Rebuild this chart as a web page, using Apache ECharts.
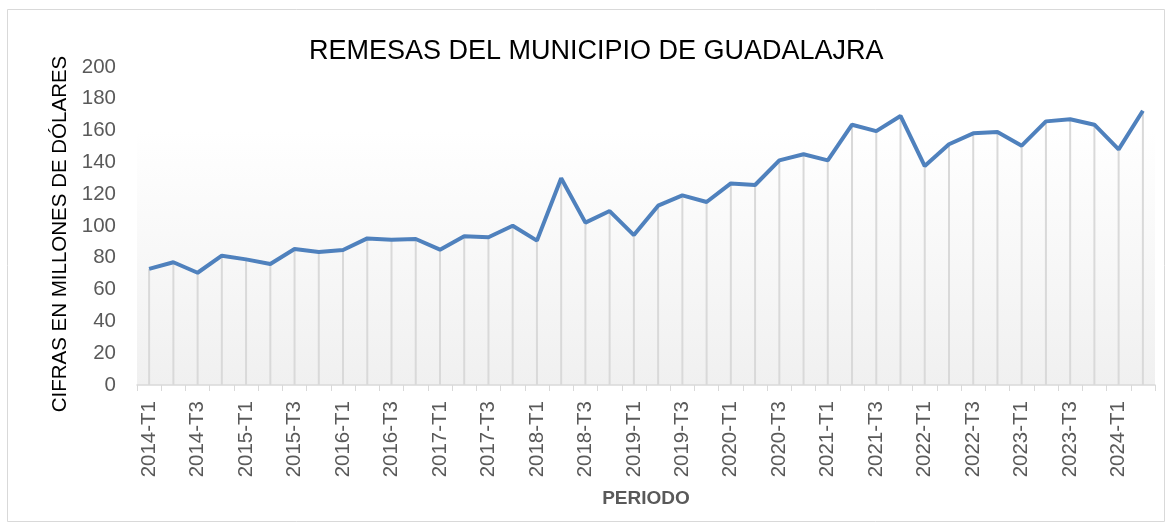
<!DOCTYPE html>
<html>
<head>
<meta charset="utf-8">
<script src="https://cdn.jsdelivr.net/npm/echarts@6/dist/echarts.min.js"></script>
<style>
  html, body { margin: 0; padding: 0; background: #fff; }
  #chart { width: 1172px; height: 523px; }
</style>
</head>
<body>
<div id="chart"></div>
<script>
const myChart = echarts.init(document.getElementById("chart"));

// periodos trimestrales
const periodos = [
  "2014-T1", "2014-T2", "2014-T3", "2014-T4",
  "2015-T1", "2015-T2", "2015-T3", "2015-T4",
  "2016-T1", "2016-T2", "2016-T3", "2016-T4",
  "2017-T1", "2017-T2", "2017-T3", "2017-T4",
  "2018-T1", "2018-T2", "2018-T3", "2018-T4",
  "2019-T1", "2019-T2", "2019-T3", "2019-T4",
  "2020-T1", "2020-T2", "2020-T3", "2020-T4",
  "2021-T1", "2021-T2", "2021-T3", "2021-T4",
  "2022-T1", "2022-T2", "2022-T3", "2022-T4",
  "2023-T1", "2023-T2", "2023-T3", "2023-T4",
  "2024-T1", "2024-T2"
];

// remesas en millones de dólares
const remesas = [
  73.0, 77.2, 70.6, 81.3, 79.0, 76.1, 85.5, 83.6,
  84.9, 92.2, 91.4, 91.8, 85.1, 93.5, 92.9, 100.2,
  90.8, 130.0, 102.1, 109.4, 94.3, 112.8, 119.3, 115.1,
  126.8, 125.8, 141.3, 145.1, 141.3, 163.7, 159.7, 169.2,
  137.7, 151.4, 158.3, 159.1, 150.5, 165.8, 167.1, 163.7,
  148.2, 172.5
];

const yTicks = { min: 0, max: 200, interval: 20 };

const font = "'Liberation Sans', Arial, sans-serif";

let option = {
  animation: false,
  backgroundColor: "#ffffff",
  graphic: [{
    type: "rect",
    shape: { x: 7.5, y: 9.5, width: 1157, height: 512 },
    style: { fill: "none", stroke: "#d9d9d9", lineWidth: 1 },
    silent: true
  }],
  title: {
    text: "REMESAS DEL MUNICIPIO DE GUADALAJRA",
    left: 304,
    top: 33,
    textStyle: {
      fontFamily: font,
      fontSize: 27,
      fontWeight: "normal",
      color: "#000000"
    }
  },
  grid: {
    left: 137,
    right: 17,
    top: 67,
    bottom: 138,
    show: true,
    borderWidth: 0,
    backgroundColor: {
      type: "linear", x: 0, y: 0, x2: 0, y2: 1,
      colorStops: [
        { offset: 0, color: "#ffffff" },
        { offset: 0.2, color: "#ffffff" },
        { offset: 1, color: "#f0f0f0" }
      ]
    }
  },
  xAxis: {
    type: "category",
    data: periodos,
    boundaryGap: true,
    name: "PERIODO",
    nameLocation: "middle",
    nameGap: 104,
    nameTextStyle: {
      fontFamily: font,
      fontSize: 19,
      fontWeight: "bold",
      color: "#595959"
    },
    axisLine: { lineStyle: { color: "#d9d9d9", width: 1.5 } },
    axisTick: { show: true, interval: 0, length: 6, lineStyle: { color: "#d9d9d9" } },
    axisLabel: {
      interval: 1,
      rotate: 90,
      margin: 16,
      fontFamily: font,
      fontSize: 20.5,
      color: "#595959"
    },
    splitLine: { show: false }
  },
  yAxis: {
    type: "value",
    min: yTicks.min,
    max: yTicks.max,
    interval: yTicks.interval,
    name: "CIFRAS EN MILLONES DE DÓLARES",
    nameLocation: "middle",
    nameGap: 64,
    nameTextStyle: {
      fontFamily: font,
      fontSize: 20.5,
      color: "#000000",
      padding: [0, 16, 0, 0]
    },
    axisLine: { show: false },
    axisTick: { show: false },
    splitLine: { show: false },
    axisLabel: {
      margin: 21,
      fontFamily: font,
      fontSize: 20.5,
      color: "#595959"
    }
  },
  series: [
    {
      name: "líneas",
      type: "bar",
      data: remesas,
      barWidth: 2,
      itemStyle: { color: "#d9d9d9" },
      silent: true,
      z: 1
    },
    {
      name: "Remesas",
      type: "line",
      data: remesas,
      symbol: "none",
      lineStyle: { color: "#4f81bd", width: 4 },
      z: 3
    }
  ]
};

myChart.setOption(option);
</script>
</body>
</html>
